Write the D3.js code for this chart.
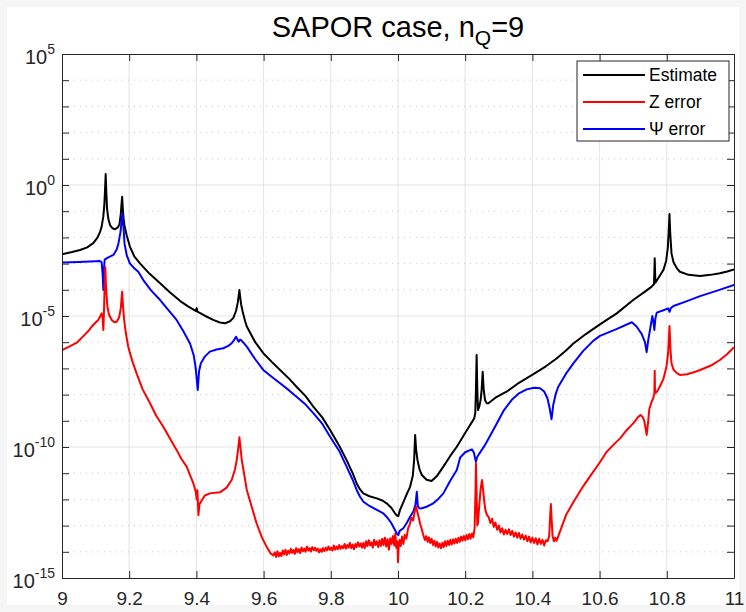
<!DOCTYPE html>
<html><head><meta charset="utf-8">
<script src="https://cdn.jsdelivr.net/npm/d3@7"></script>
<style>
html,body{margin:0;padding:0;background:#f5f5f5;}
svg{display:block;font-family:"Liberation Sans",Arial,Helvetica,sans-serif;}
</style></head>
<body>
<svg id="chart" width="746" height="612"></svg>
<script>
// ---- data (x, log10 value) ----
const xTicks = [9, 9.2, 9.4, 9.6, 9.8, 10, 10.2, 10.4, 10.6, 10.8, 11];
const yMajorExp = [-15, -10, -5, 0, 5];
const seriesNames = ["Estimate", "Z error", "\u03A8 error"];
const seriesColors = ["#000000", "#ff0000", "#0000ff"];

const estimatePts = [
[9.000,-2.64],[9.030,-2.56],[9.054,-2.48],[9.075,-2.38],[9.093,-2.22],[9.105,-2.02],[9.113,-1.80],[9.118,-1.59],
[9.123,-1.20],[9.126,-0.75],[9.128,-0.20],[9.130,0.42],[9.132,-0.30],[9.134,-0.90],[9.138,-1.30],[9.143,-1.53],
[9.150,-1.65],[9.158,-1.69],[9.166,-1.62],[9.171,-1.50],[9.175,-1.10],[9.177,-0.75],[9.179,-0.45],[9.181,-0.90],
[9.183,-1.25],[9.186,-1.55],[9.193,-1.95],[9.202,-2.35],[9.215,-2.72],[9.232,-2.99],[9.260,-3.38],[9.292,-3.75],
[9.320,-4.08],[9.351,-4.42],[9.375,-4.63],[9.399,-4.81],[9.401,-4.70],[9.403,-4.83],[9.425,-4.99],[9.450,-5.15],
[9.470,-5.25],[9.485,-5.28],[9.500,-5.20],[9.510,-5.07],[9.518,-4.80],[9.523,-4.50],[9.526,-4.20],[9.528,-4.01],
[9.530,-4.25],[9.533,-4.55],[9.538,-4.85],[9.545,-5.20],[9.550,-5.40],[9.575,-6.00],[9.599,-6.42],[9.625,-6.76],
[9.649,-7.06],[9.675,-7.38],[9.698,-7.70],[9.725,-8.06],[9.748,-8.46],[9.775,-8.88],[9.798,-9.35],[9.825,-9.95],
[9.847,-10.50],[9.865,-11.00],[9.877,-11.39],[9.887,-11.62],[9.897,-11.77],[9.915,-11.88],[9.937,-11.96],[9.955,-12.05],
[9.966,-12.15],[9.980,-12.32],[9.991,-12.53],[9.997,-12.62],[10.001,-12.63],[10.006,-12.40],[10.016,-12.10],[10.026,-11.80],
[10.036,-11.52],[10.044,-11.10],[10.048,-10.50],[10.051,-9.54],[10.054,-10.10],[10.058,-10.50],[10.064,-10.85],[10.071,-11.07],
[10.085,-11.25],[10.100,-11.30],[10.115,-11.12],[10.135,-10.75],[10.155,-10.35],[10.175,-9.99],[10.204,-9.38],[10.220,-9.05],
[10.227,-8.90],[10.230,-8.70],[10.232,-7.80],[10.234,-6.49],[10.236,-7.80],[10.238,-8.59],[10.242,-8.45],[10.246,-8.20],
[10.249,-7.80],[10.252,-7.13],[10.255,-7.80],[10.259,-8.21],[10.264,-8.33],[10.269,-8.33],[10.290,-8.12],[10.323,-7.89],
[10.360,-7.55],[10.403,-7.22],[10.440,-6.92],[10.472,-6.62],[10.500,-6.32],[10.522,-6.05],[10.560,-5.68],[10.601,-5.32],
[10.651,-4.90],[10.700,-4.39],[10.735,-4.07],[10.755,-3.88],[10.762,-3.78],[10.764,-2.80],[10.766,-3.73],[10.775,-3.55],
[10.790,-3.24],[10.798,-2.90],[10.803,-2.40],[10.806,-1.70],[10.808,-1.11],[10.810,-1.80],[10.814,-2.61],[10.820,-2.95],
[10.830,-3.18],[10.839,-3.31],[10.865,-3.43],[10.899,-3.47],[10.930,-3.43],[10.958,-3.37],[10.980,-3.30],[11.000,-3.22]
];

const zErrorPts = [
[9.000,-6.30],[9.020,-6.18],[9.044,-6.02],[9.065,-5.75],[9.080,-5.55],[9.088,-5.41],[9.100,-5.25],[9.108,-5.15],
[9.113,-5.03],[9.118,-4.90],[9.121,-5.10],[9.123,-5.53],[9.125,-4.80],[9.127,-3.80],[9.129,-3.14],[9.131,-3.90],
[9.135,-4.64],[9.140,-4.95],[9.148,-5.15],[9.156,-5.24],[9.163,-5.22],[9.170,-5.05],[9.175,-4.70],[9.179,-4.07],
[9.182,-4.70],[9.185,-5.15],[9.190,-5.65],[9.197,-6.17],[9.210,-6.75],[9.222,-7.19],[9.240,-7.80],[9.262,-8.33],
[9.280,-8.80],[9.301,-9.22],[9.320,-9.65],[9.341,-10.11],[9.355,-10.45],[9.371,-10.75],[9.385,-11.20],[9.391,-11.39],
[9.398,-11.70],[9.401,-12.00],[9.403,-11.65],[9.406,-12.60],[9.409,-12.20],[9.413,-12.10],[9.425,-11.85],[9.440,-11.77],
[9.470,-11.73],[9.490,-11.55],[9.505,-11.26],[9.515,-10.85],[9.520,-10.50],[9.525,-10.00],[9.528,-9.63],[9.531,-10.00],
[9.535,-10.50],[9.543,-11.10],[9.550,-11.64],[9.565,-12.30],[9.579,-12.91],[9.595,-13.45],[9.609,-13.81],[9.620,-14.05],
[9.629,-14.14],[9.633,-14.02],[9.637,-14.20],[9.641,-13.98],[9.645,-14.18],[9.649,-14.04],[9.653,-14.16],[9.657,-13.95],
[9.661,-14.10],[9.665,-13.92],[9.669,-14.12],[9.673,-13.96],[9.677,-14.06],[9.681,-13.88],[9.685,-14.04],[9.689,-13.93],
[9.693,-14.08],[9.697,-13.86],[9.701,-14.02],[9.705,-13.90],[9.709,-14.05],[9.713,-13.84],[9.717,-13.98],[9.721,-13.88],
[9.725,-14.00],[9.729,-13.80],[9.733,-13.95],[9.737,-13.86],[9.741,-13.99],[9.745,-13.82],[9.749,-13.94],[9.753,-13.85],
[9.757,-13.96],[9.761,-13.88],[9.765,-14.02],[9.769,-13.90],[9.773,-14.00],[9.777,-13.86],[9.781,-13.97],[9.785,-13.84],
[9.789,-13.94],[9.793,-13.80],[9.797,-13.93],[9.801,-13.84],[9.805,-13.95],[9.809,-13.76],[9.813,-13.92],[9.817,-13.80],
[9.821,-13.90],[9.825,-13.74],[9.829,-13.89],[9.833,-13.78],[9.837,-13.86],[9.841,-13.70],[9.845,-13.88],[9.849,-13.74],
[9.853,-13.84],[9.857,-13.66],[9.861,-13.86],[9.865,-13.72],[9.869,-13.90],[9.873,-13.70],[9.877,-13.82],[9.881,-13.64],
[9.885,-13.80],[9.889,-13.68],[9.893,-13.84],[9.897,-13.66],[9.901,-13.86],[9.905,-13.60],[9.909,-13.78],[9.913,-13.56],
[9.917,-13.76],[9.921,-13.64],[9.925,-13.84],[9.929,-13.54],[9.933,-13.74],[9.937,-13.60],[9.941,-13.82],[9.945,-13.56],
[9.949,-13.78],[9.953,-13.50],[9.957,-13.74],[9.961,-13.46],[9.965,-13.80],[9.969,-13.52],[9.973,-13.92],[9.977,-13.48],
[9.981,-13.70],[9.985,-13.40],[9.989,-13.76],[9.992,-13.30],[9.995,-13.85],[9.998,-13.60],[10.000,-14.40],[10.002,-13.80],
[10.005,-13.55],[10.008,-13.78],[10.012,-13.42],[10.016,-13.70],[10.020,-13.35],[10.025,-13.50],[10.030,-13.10],[10.035,-12.95],
[10.040,-12.70],[10.045,-12.80],[10.050,-12.45],[10.054,-12.28],[10.058,-12.50],[10.062,-12.70],[10.066,-12.95],[10.070,-13.10],
[10.075,-13.35],[10.080,-13.55],[10.084,-13.40],[10.088,-13.62],[10.092,-13.45],[10.096,-13.66],[10.100,-13.50],[10.104,-13.74],
[10.108,-13.58],[10.112,-13.80],[10.116,-13.62],[10.120,-13.84],[10.124,-13.68],[10.128,-13.86],[10.132,-13.66],[10.136,-13.82],
[10.140,-13.60],[10.144,-13.78],[10.148,-13.58],[10.152,-13.74],[10.156,-13.54],[10.160,-13.72],[10.164,-13.52],[10.168,-13.68],
[10.172,-13.50],[10.176,-13.66],[10.180,-13.46],[10.184,-13.62],[10.188,-13.42],[10.192,-13.58],[10.196,-13.40],[10.200,-13.56],
[10.204,-13.36],[10.208,-13.52],[10.212,-13.32],[10.216,-13.50],[10.220,-13.30],[10.224,-13.45],[10.228,-13.10],[10.231,-11.50],
[10.232,-10.62],[10.234,-11.80],[10.236,-13.00],[10.238,-12.90],[10.242,-12.20],[10.246,-11.60],[10.250,-11.26],[10.253,-11.60],
[10.256,-12.00],[10.260,-12.40],[10.265,-12.60],[10.270,-12.68],[10.275,-12.90],[10.280,-12.74],[10.285,-13.05],[10.290,-12.88],
[10.295,-13.16],[10.300,-13.00],[10.305,-13.26],[10.310,-13.10],[10.315,-13.34],[10.320,-13.16],[10.325,-13.32],[10.330,-13.14],
[10.335,-13.36],[10.340,-13.20],[10.345,-13.42],[10.350,-13.26],[10.355,-13.46],[10.360,-13.28],[10.365,-13.50],[10.370,-13.34],
[10.375,-13.54],[10.380,-13.38],[10.385,-13.60],[10.390,-13.42],[10.395,-13.64],[10.400,-13.46],[10.405,-13.66],[10.410,-13.48],
[10.415,-13.72],[10.420,-13.50],[10.425,-13.70],[10.430,-13.54],[10.435,-13.76],[10.440,-13.56],[10.445,-13.60],[10.450,-13.40],
[10.453,-12.60],[10.455,-12.18],[10.457,-12.70],[10.460,-13.40],[10.464,-13.60],[10.468,-13.46],[10.472,-13.58],[10.480,-13.30],
[10.490,-12.95],[10.500,-12.60],[10.520,-12.15],[10.550,-11.52],[10.571,-11.13],[10.600,-10.60],[10.620,-10.20],[10.641,-9.92],
[10.661,-9.67],[10.681,-9.35],[10.700,-9.10],[10.715,-8.85],[10.722,-8.78],[10.728,-8.85],[10.733,-9.00],[10.737,-9.30],
[10.740,-9.54],[10.744,-9.10],[10.748,-8.55],[10.755,-8.27],[10.760,-8.12],[10.763,-7.95],[10.764,-7.09],[10.765,-7.95],
[10.770,-7.90],[10.779,-7.70],[10.790,-7.40],[10.799,-6.93],[10.804,-6.40],[10.808,-5.38],[10.811,-6.30],[10.814,-6.81],
[10.820,-7.05],[10.830,-7.18],[10.839,-7.25],[10.860,-7.22],[10.880,-7.15],[10.899,-7.06],[10.930,-6.90],[10.958,-6.68],
[10.980,-6.45],[11.000,-6.19]
];

const psiErrorPts = [
[9.000,-2.96],[9.050,-2.94],[9.100,-2.91],[9.113,-2.90],[9.118,-2.95],[9.121,-3.40],[9.123,-4.01],[9.125,-3.20],
[9.127,-2.85],[9.135,-2.78],[9.153,-2.67],[9.163,-2.45],[9.168,-2.23],[9.174,-1.80],[9.178,-1.30],[9.180,-1.08],
[9.183,-1.60],[9.186,-2.23],[9.193,-2.70],[9.202,-2.99],[9.215,-3.18],[9.227,-3.31],[9.242,-3.63],[9.265,-4.02],
[9.292,-4.39],[9.315,-4.75],[9.341,-5.15],[9.360,-5.55],[9.381,-6.05],[9.392,-6.50],[9.398,-7.00],[9.404,-7.82],
[9.408,-7.10],[9.413,-6.81],[9.425,-6.55],[9.440,-6.36],[9.460,-6.28],[9.480,-6.23],[9.495,-6.14],[9.505,-6.04],
[9.512,-5.92],[9.518,-5.79],[9.523,-5.92],[9.526,-5.98],[9.530,-5.90],[9.533,-5.92],[9.540,-6.02],[9.550,-6.17],
[9.575,-6.65],[9.599,-7.06],[9.625,-7.33],[9.649,-7.57],[9.675,-7.83],[9.698,-8.08],[9.725,-8.38],[9.748,-8.71],
[9.775,-9.12],[9.798,-9.61],[9.825,-10.15],[9.847,-10.75],[9.865,-11.25],[9.877,-11.64],[9.887,-11.90],[9.897,-12.09],
[9.915,-12.25],[9.937,-12.40],[9.955,-12.52],[9.966,-12.66],[9.980,-12.90],[9.991,-13.17],[9.997,-13.32],[10.001,-13.36],
[10.005,-13.20],[10.016,-13.10],[10.026,-12.90],[10.036,-12.66],[10.046,-12.45],[10.052,-12.20],[10.056,-11.71],[10.059,-12.25],
[10.064,-12.35],[10.071,-12.34],[10.085,-12.28],[10.105,-12.15],[10.120,-11.98],[10.135,-11.77],[10.155,-11.30],[10.175,-10.88],
[10.185,-10.40],[10.200,-10.20],[10.214,-10.12],[10.220,-10.09],[10.226,-10.22],[10.229,-10.40],[10.232,-10.56],[10.235,-10.40],
[10.239,-10.31],[10.250,-10.10],[10.259,-9.92],[10.275,-9.55],[10.294,-9.10],[10.315,-8.60],[10.338,-8.21],[10.360,-7.95],
[10.383,-7.80],[10.405,-7.74],[10.423,-7.76],[10.435,-7.88],[10.445,-8.15],[10.451,-8.50],[10.457,-8.94],[10.462,-8.40],
[10.470,-7.95],[10.477,-7.70],[10.500,-7.20],[10.522,-6.81],[10.550,-6.35],[10.581,-5.95],[10.601,-5.76],[10.650,-5.50],
[10.696,-5.24],[10.710,-5.40],[10.725,-5.68],[10.735,-6.00],[10.740,-6.38],[10.745,-5.90],[10.750,-5.53],[10.757,-5.00],
[10.760,-5.20],[10.763,-5.53],[10.766,-5.10],[10.770,-4.87],[10.790,-4.78],[10.804,-4.71],[10.808,-4.84],[10.812,-4.70],
[10.820,-4.62],[10.860,-4.43],[10.899,-4.24],[10.950,-4.03],[11.000,-3.81]
];

const seriesData = [estimatePts, zErrorPts, psiErrorPts];

// ---- layout ----
const W = 746, H = 612;
const M = {left: 62, right: 734, top: 54, bottom: 578};
const svg = d3.select("#chart");

svg.append("rect").attr("x",7).attr("y",7).attr("width",W-14).attr("height",H-14).attr("fill","#ffffff");

const x = d3.scaleLinear().domain([9, 11]).range([M.left, M.right]);
const y = d3.scaleLog().domain([1e-15, 1e5]).range([M.bottom, M.top]);

const allExp = d3.range(-15, 6);
const minorExp = allExp.filter(e => !yMajorExp.includes(e));

// grid
const grid = svg.append("g");
grid.selectAll(".xg").data(xTicks.slice(1, -1)).join("line")
  .attr("x1", d => x(d)).attr("x2", d => x(d)).attr("y1", M.top).attr("y2", M.bottom)
  .attr("stroke", "#e3e3e3").attr("stroke-width", 1);
grid.selectAll(".ymg").data(minorExp).join("line")
  .attr("x1", M.left).attr("x2", M.right).attr("y1", d => y(Math.pow(10, d))).attr("y2", d => y(Math.pow(10, d)))
  .attr("stroke", "#c8c8c8").attr("stroke-width", 1).attr("stroke-dasharray", "1,5");
grid.selectAll(".yg").data(yMajorExp.slice(1, -1)).join("line")
  .attr("x1", M.left).attr("x2", M.right).attr("y1", d => y(Math.pow(10, d))).attr("y2", d => y(Math.pow(10, d)))
  .attr("stroke", "#e3e3e3").attr("stroke-width", 1);

// curves
svg.append("clipPath").attr("id", "clip").append("rect")
  .attr("x", M.left).attr("y", M.top).attr("width", M.right - M.left).attr("height", M.bottom - M.top);
const line = d3.line().x(d => x(d[0])).y(d => y(Math.pow(10, d[1])));
const curves = svg.append("g").attr("clip-path", "url(#clip)");
seriesData.forEach((pts, i) => {
  curves.append("path").datum(pts).attr("d", line)
    .attr("fill", "none").attr("stroke", seriesColors[i]).attr("stroke-width", 2)
    .attr("stroke-linejoin", "round");
});
curves.selectAll("path").filter((d, i) => i === 1).raise();

// axes
const axisColor = "#262626";
const tickLen = 7;
const fmtX = d => String(+d.toFixed(1));

const gB = svg.append("g").attr("transform", `translate(0,${M.bottom})`)
  .call(d3.axisBottom(x).tickValues(xTicks).tickSizeInner(-tickLen).tickSizeOuter(0).tickPadding(14).tickFormat(fmtX));
const gT = svg.append("g").attr("transform", `translate(0,${M.top})`)
  .call(d3.axisTop(x).tickValues(xTicks).tickSizeInner(-tickLen).tickSizeOuter(0).tickFormat(""));
const yTickVals = allExp.map(e => Math.pow(10, e));
const gL = svg.append("g").attr("transform", `translate(${M.left},0)`)
  .call(d3.axisLeft(y).tickValues(yTickVals).tickSizeInner(-tickLen).tickSizeOuter(0).tickPadding(8)
    .tickFormat(d => { const e = Math.round(Math.log10(d)); return yMajorExp.includes(e) ? String(e) : ""; }));
const gR = svg.append("g").attr("transform", `translate(${M.right},0)`)
  .call(d3.axisRight(y).tickValues(yTickVals).tickSizeInner(-tickLen).tickSizeOuter(0).tickFormat(""));

[gB, gT, gL, gR].forEach(g => {
  g.select(".domain").attr("stroke", axisColor).attr("stroke-width", 1);
  g.selectAll(".tick line").attr("stroke", axisColor).attr("stroke-width", 1);
  g.selectAll("text").attr("fill", "#262626").attr("font-family", "Liberation Sans, Arial, sans-serif");
});
gB.selectAll("text").attr("font-size", 19);

// y labels: 10 with superscript exponent
gL.selectAll(".tick text").each(function() {
  const t = d3.select(this);
  const e = t.text();
  t.text(null);
  if (e === "") return;
  t.attr("font-size", 20).attr("dy", "0.45em").attr("x", -7).attr("text-anchor", "end");
  t.append("tspan").text("10");
  t.append("tspan").attr("font-size", 14).attr("dy", "-0.7em").text(e);
});

// title
const title = svg.append("text").attr("x", (M.left + M.right) / 2).attr("y", 37)
  .attr("text-anchor", "middle").attr("font-size", 29).attr("fill", "#000")
  .attr("font-family", "Liberation Sans, Arial, sans-serif");
title.append("tspan").text("SAPOR case, n");
title.append("tspan").attr("font-size", 21).attr("dy", 8).text("Q");
title.append("tspan").attr("dy", -8).text("=9");

// legend
const lg = svg.append("g");
const lgX = 577, lgY = 61, lgW = 152, lgH = 80;
lg.append("rect").attr("x", lgX).attr("y", lgY).attr("width", lgW).attr("height", lgH)
  .attr("fill", "#fff").attr("stroke", axisColor).attr("stroke-width", 1);
seriesNames.forEach((name, i) => {
  const cy = lgY + 14 + i * 27;
  lg.append("line").attr("x1", lgX + 6).attr("x2", lgX + 68).attr("y1", cy).attr("y2", cy)
    .attr("stroke", seriesColors[i]).attr("stroke-width", 2);
  lg.append("text").attr("x", lgX + 72).attr("y", cy).attr("dy", "0.36em")
    .attr("font-size", 17.5).attr("fill", "#000").attr("font-family", "Liberation Sans, Arial, sans-serif")
    .text(name);
});
</script>
</body></html>
